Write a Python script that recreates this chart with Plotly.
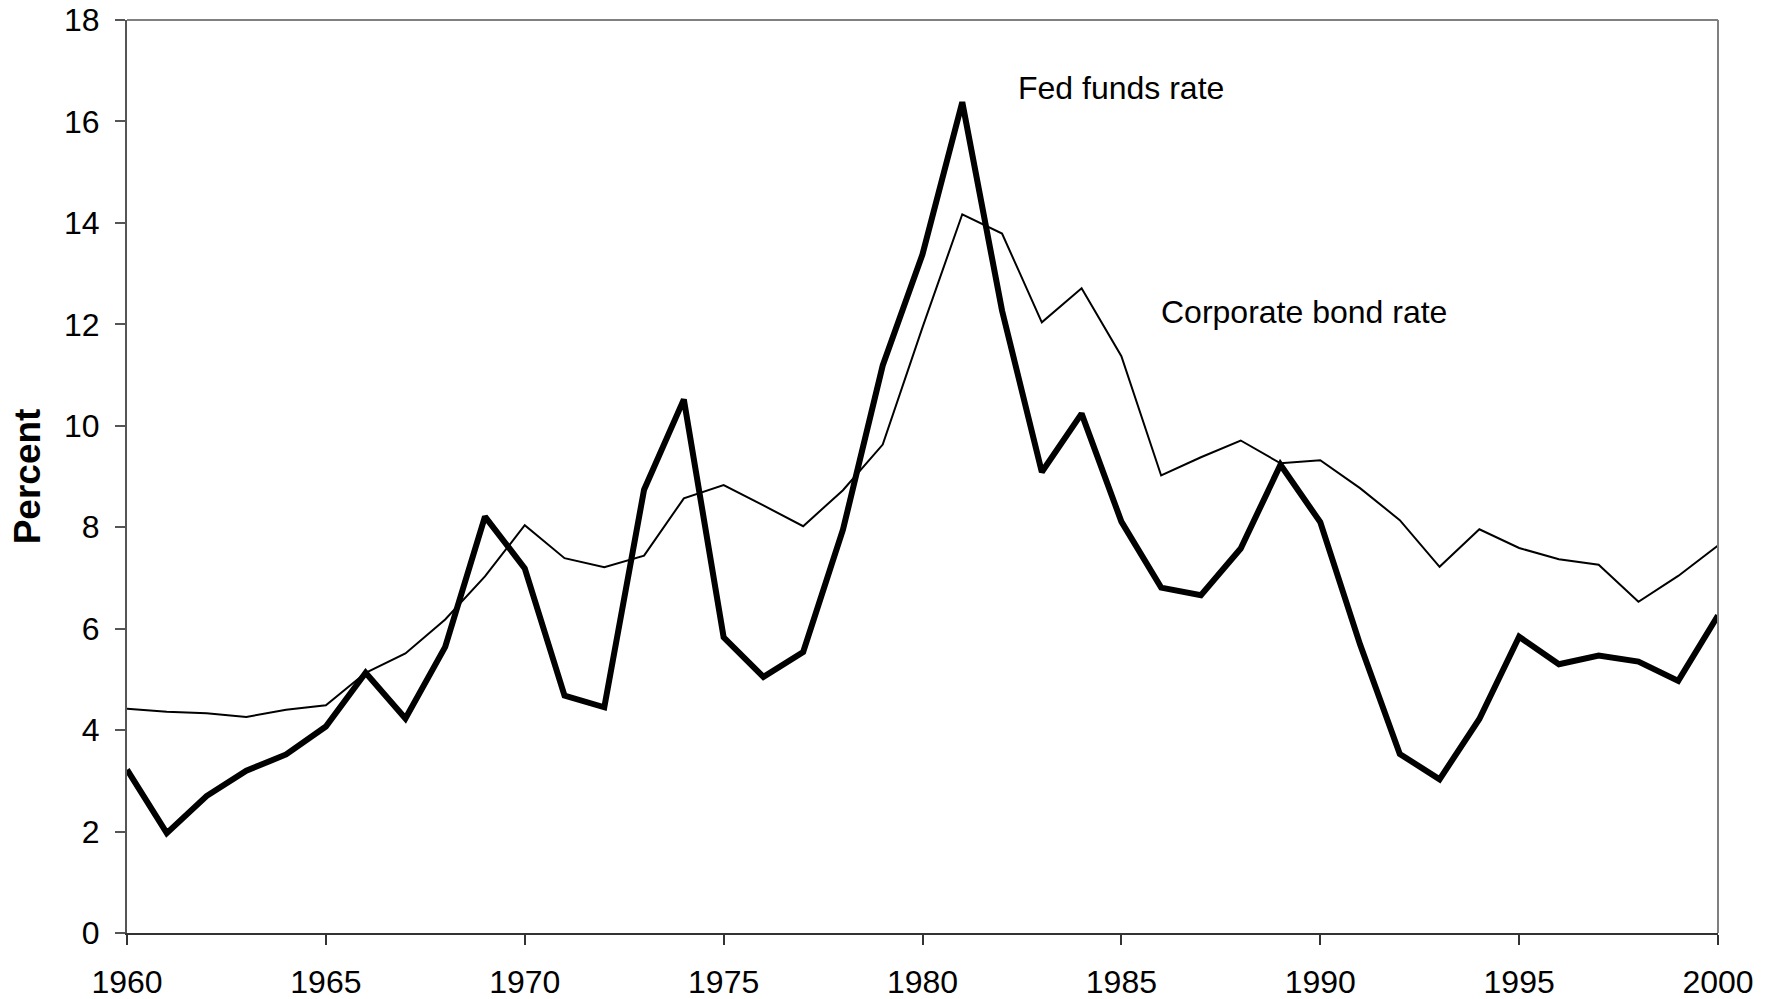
import plotly.graph_objects as go

years = list(range(1960, 2001))
fed_funds = [3.22, 1.97, 2.70, 3.20, 3.52, 4.07, 5.13, 4.23, 5.64, 8.21,
             7.19, 4.68, 4.45, 8.74, 10.52, 5.83, 5.05, 5.54, 7.95, 11.19,
             13.38, 16.38, 12.27, 9.09, 10.24, 8.11, 6.81, 6.66, 7.58, 9.23,
             8.10, 5.69, 3.53, 3.03, 4.22, 5.84, 5.30, 5.47, 5.35, 4.97, 6.26]
corp_bond = [4.42, 4.36, 4.33, 4.26, 4.40, 4.49, 5.13, 5.51, 6.18, 7.03,
             8.04, 7.39, 7.21, 7.44, 8.57, 8.83, 8.43, 8.02, 8.73, 9.63,
             11.94, 14.17, 13.79, 12.04, 12.71, 11.37, 9.02, 9.38, 9.71, 9.26,
             9.32, 8.77, 8.14, 7.22, 7.96, 7.59, 7.37, 7.26, 6.53, 7.04, 7.64]
x_ticks = [1960, 1965, 1970, 1975, 1980, 1985, 1990, 1995, 2000]
y_ticks = [0, 2, 4, 6, 8, 10, 12, 14, 16, 18]

FONT = "Arial, Liberation Sans, sans-serif"

fig = go.Figure()
fig.add_trace(go.Scatter(x=years, y=corp_bond, mode="lines", name="Corporate bond rate",
                         line=dict(color="black", width=2)))
fig.add_trace(go.Scatter(x=years, y=fed_funds, mode="lines", name="Fed funds rate",
                         line=dict(color="black", width=6)))

fig.add_annotation(x=1985.0, y=16.65, text="Fed funds rate", showarrow=False,
                   font=dict(family=FONT, size=32, color="black"))
fig.add_annotation(x=1989.6, y=12.25, text="Corporate bond rate", showarrow=False,
                   font=dict(family=FONT, size=32, color="black"))

# top and right frame lines (lighter grey)
fig.add_shape(type="line", xref="paper", yref="paper", x0=0, x1=1, y0=1, y1=1,
              line=dict(color="#808080", width=2))
fig.add_shape(type="line", xref="paper", yref="paper", x0=1, x1=1, y0=0, y1=1,
              line=dict(color="#808080", width=2))

fig.update_layout(
    width=1777, height=999,
    margin=dict(l=127, r=59, t=20, b=66),
    paper_bgcolor="white", plot_bgcolor="white",
    showlegend=False,
    font=dict(family=FONT, size=32, color="black"),
    xaxis=dict(range=[1960, 2000], tickvals=x_ticks, ticktext=[str(v) for v in x_ticks],
               showgrid=False, zeroline=False, showline=True, linecolor="#333333", linewidth=2,
               ticks="outside", ticklen=10, tickcolor="#333333", tickwidth=2,
               tickfont=dict(family=FONT, size=32), ticklabelstandoff=10, automargin=False,
               ticklabeloverflow="allow"),
    yaxis=dict(range=[0, 18], tickvals=y_ticks,
               showgrid=False, zeroline=False, showline=True, linecolor="#555555", linewidth=2,
               ticks="outside", ticklen=10, tickcolor="#555555", tickwidth=2,
               tickfont=dict(family=FONT, size=32), ticklabelstandoff=9, automargin=False,
               ticklabeloverflow="allow",
               title=dict(text="<b>Percent</b>", font=dict(family=FONT, size=37), standoff=12)),
)

fig.write_html("out.html", config={"displayModeBar": False},
               post_script="document.body.style.margin='0';")
